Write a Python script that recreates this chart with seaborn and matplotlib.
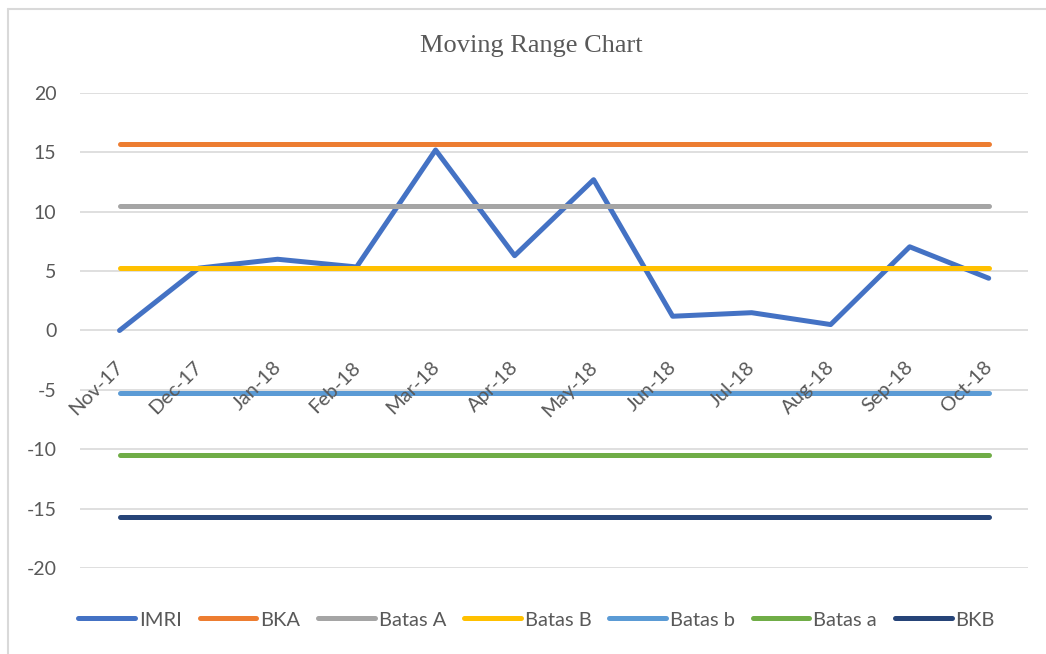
import numpy as np
import pandas as pd
import matplotlib
matplotlib.use("Agg")
import matplotlib.pyplot as plt
import matplotlib.transforms as mtransforms
import seaborn as sns
from matplotlib.lines import Line2D

# data
months = ["Nov-17", "Dec-17", "Jan-18", "Feb-18", "Mar-18", "Apr-18",
          "May-18", "Jun-18", "Jul-18", "Aug-18", "Sep-18", "Oct-18"]
imri = [0.0, 5.25, 6.0, 5.35, 15.2, 6.3, 12.7, 1.2, 1.5, 0.5, 7.05, 4.4]
bka = 15.69
batas_A = 10.46
batas_B = 5.23
batas_b = -5.23
batas_a = -10.46
bkb = -15.69

series_names = ["IMRI", "BKA", "Batas A", "Batas B", "Batas b", "Batas a", "BKB"]
colors = ["#4472C4", "#ED7D31", "#A5A5A5", "#FFC000", "#5B9BD5", "#70AD47", "#264478"]

n = len(months)
x = np.arange(n)
df = pd.DataFrame({
    "x": np.tile(x, len(series_names)),
    "value": np.concatenate([imri, [bka] * n, [batas_A] * n, [batas_B] * n,
                             [batas_b] * n, [batas_a] * n, [bkb] * n]),
    "series": np.repeat(series_names, n),
})

sns.set_theme(style="white")
plt.rcParams["font.family"] = ["Lato", "DejaVu Sans"]
text_col = "#595959"

fig = plt.figure(figsize=(10.46, 6.54), dpi=100)
ax = fig.add_axes([0.0765, 0.1315, 0.9065, 0.7263])

sns.lineplot(data=df, x="x", y="value", hue="series", hue_order=series_names,
             palette=colors, linewidth=3.6, ax=ax, legend=False,
             solid_capstyle="round")

ax.set_xlim(-0.5, n - 0.5)
ax.set_ylim(-20, 20)
ax.set_yticks(np.arange(-20, 21, 5))
ax.set_yticklabels([str(v) for v in np.arange(-20, 21, 5)])
ax.set_xticks(x)
ax.set_xticklabels(months)
ax.yaxis.grid(True, color="#D9D9D9", linewidth=1.2, zorder=0)
ax.set_axisbelow(True)
ax.xaxis.grid(False)
ax.xaxis.set_zorder(3)  # month labels sit on top of the lines, as in Excel
for s in ["top", "right", "left"]:
    ax.spines[s].set_visible(False)
ax.spines["bottom"].set_position(("data", 0))
ax.spines["bottom"].set_color("none")
ax.tick_params(axis="x", length=0, pad=20, labelsize=14.5, labelcolor=text_col,
               labelrotation=45)
ax.tick_params(axis="y", length=0, pad=17, labelsize=14, labelcolor=text_col)
shift = mtransforms.ScaledTranslation(7 / 100, 0, fig.dpi_scale_trans)
for lab in ax.get_xticklabels():
    lab.set_horizontalalignment("right")
    lab.set_transform(lab.get_transform() + shift)
ax.set_xlabel("")
ax.set_ylabel("")

fig.text(0.508, 0.929, "Moving Range Chart", ha="center", va="center",
         family="Liberation Serif", fontsize=19, color=text_col)

handles = [Line2D([0], [0], color=c, linewidth=3.6, solid_capstyle="round")
           for c in colors]
fig.legend(handles, series_names, loc="center", bbox_to_anchor=(0.513, 0.052),
           ncol=7, frameon=False, fontsize=14.5, labelcolor=text_col,
           handlelength=2.8, handletextpad=0.2, columnspacing=0.9)

# chart border (top and left edges visible in the reference)
fig.add_artist(Line2D([8 / 1046, 1.0], [1 - 8.5 / 654] * 2, transform=fig.transFigure,
                      color="#D9D9D9", linewidth=1.5))
fig.add_artist(Line2D([8 / 1046] * 2, [0.0, 1 - 8.5 / 654], transform=fig.transFigure,
                      color="#D9D9D9", linewidth=1.5))

fig.savefig("out.png", dpi=100)
